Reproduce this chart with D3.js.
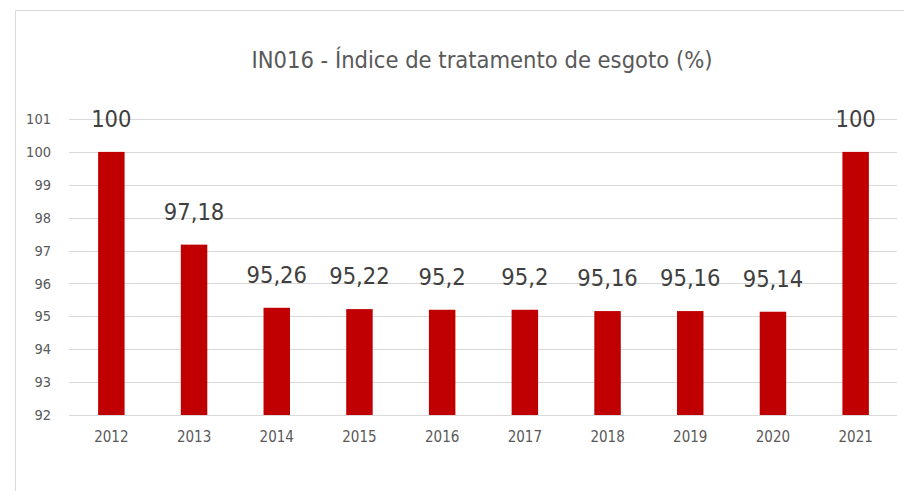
<!DOCTYPE html>
<html>
<head>
<meta charset="utf-8">
<script src="https://cdn.jsdelivr.net/npm/d3@7"></script>
<style>
  body { margin: 0; background: #fff; }
  svg text { font-family: "DejaVu Sans Condensed", "Open Sans", sans-serif; }
</style>
</head>
<body>
<svg id="chart"></svg>
<script>
const WIDTH = 904
const HEIGHT = 491
const TITLE = "IN016 - Índice de tratamento de esgoto (%)"

const years = ["2012", "2013", "2014", "2015", "2016", "2017", "2018", "2019", "2020", "2021"]
const values = [100, 97.18, 95.26, 95.22, 95.2, 95.2, 95.16, 95.16, 95.14, 100]
const yTicks = [92, 93, 94, 95, 96, 97, 98, 99, 100, 101]

const svg = d3.select("#chart")
    .attr("width", WIDTH)
    .attr("height", HEIGHT)

// chart frame
svg.append("path")
    .attr("d", `M15.5,${HEIGHT} L15.5,10.5 L${WIDTH},10.5`)
    .attr("fill", "none")
    .attr("stroke", "#d9d9d9")

const x = d3.scaleBand()
    .domain(years)
    .range([70, 897])
    .paddingInner(0.68)
    .paddingOuter(0.34)

const y = d3.scaleLinear()
    .domain([92, 101])
    .range([415, 119])

// gridlines
svg.append("g")
    .selectAll("line")
    .data(yTicks)
    .join("line")
    .attr("x1", 69)
    .attr("x2", 897)
    .attr("y1", d => Math.round(y(d)) + 0.5)
    .attr("y2", d => Math.round(y(d)) + 0.5)
    .attr("stroke", "#d9d9d9")

// y axis labels
const yAxis = svg.append("g")
    .attr("transform", "translate(51,0)")
    .call(d3.axisLeft(y).tickValues(yTicks).tickSize(0).tickPadding(0))
yAxis.select(".domain").remove()
yAxis.selectAll("text")
    .attr("fill", "#595959")
    .style("font-size", "14.5px")

// x axis labels
const xAxis = svg.append("g")
    .attr("transform", "translate(0,431)")
    .call(d3.axisBottom(x).tickSize(0).tickPadding(0))
xAxis.select(".domain").remove()
xAxis.selectAll("text")
    .attr("fill", "#595959")
    .style("font-size", "15px")

// bars
svg.append("g")
    .selectAll("rect")
    .data(values)
    .join("rect")
    .attr("x", (d, i) => x(years[i]))
    .attr("width", x.bandwidth())
    .attr("y", d => y(d))
    .attr("height", d => y(92) - y(d))
    .attr("fill", "#c00000")

// data labels
svg.append("g")
    .selectAll("text")
    .data(values)
    .join("text")
    .attr("x", (d, i) => x(years[i]) + x.bandwidth() / 2)
    .attr("y", d => y(d) - 25)
    .attr("text-anchor", "middle")
    .attr("fill", "#404040")
    .style("font-size", "23.5px")
    .text(d => String(d).replace(".", ","))

// title
svg.append("text")
    .attr("x", 482)
    .attr("y", 68)
    .attr("text-anchor", "middle")
    .attr("fill", "#595959")
    .style("font-size", "23.5px")
    .text(TITLE)
</script>
</body>
</html>
